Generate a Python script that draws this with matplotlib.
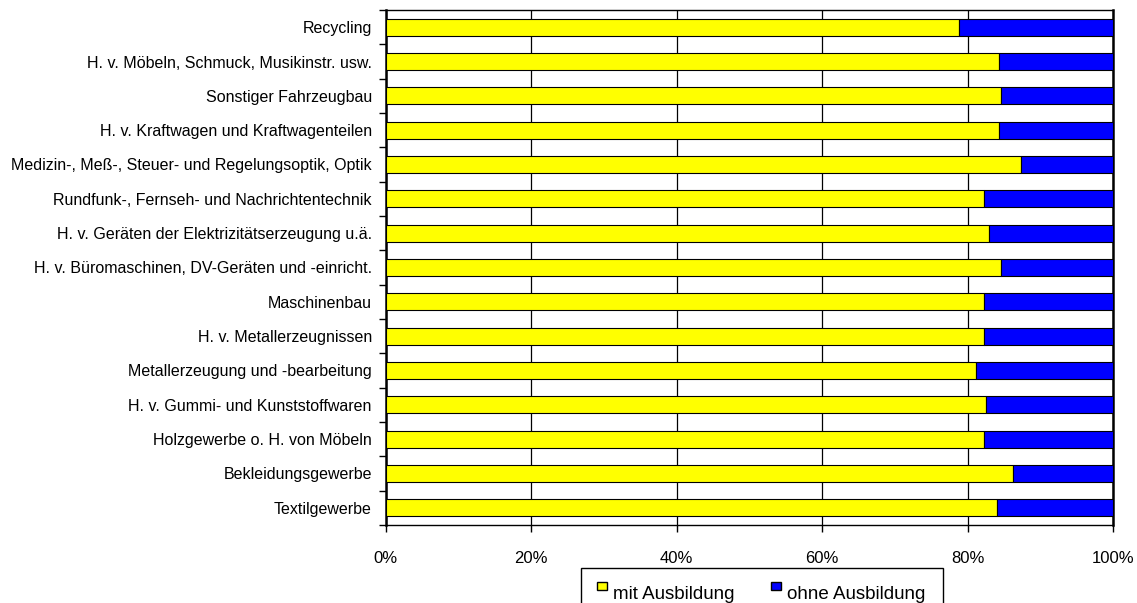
import matplotlib
matplotlib.use("Agg")
import matplotlib.pyplot as plt
from matplotlib.patches import Rectangle
from matplotlib.ticker import FixedLocator, PercentFormatter

plt.rcParams["font.family"] = ["Liberation Sans", "DejaVu Sans"]

# Industries, listed bottom to top
branches = [
    "Textilgewerbe",
    "Bekleidungsgewerbe",
    "Holzgewerbe o. H. von Möbeln",
    "H. v. Gummi- und Kunststoffwaren",
    "Metallerzeugung und -bearbeitung",
    "H. v. Metallerzeugnissen",
    "Maschinenbau",
    "H. v. Büromaschinen, DV-Geräten und -einricht.",
    "H. v. Geräten der Elektrizitätserzeugung u.ä.",
    "Rundfunk-, Fernseh- und Nachrichtentechnik",
    "Medizin-, Meß-, Steuer- und Regelungsoptik, Optik",
    "H. v. Kraftwagen und Kraftwagenteilen",
    "Sonstiger Fahrzeugbau",
    "H. v. Möbeln, Schmuck, Musikinstr. usw.",
    "Recycling",
]

# Share of employees (%) with and without vocational training
mit_ausbildung = [84.0, 86.2, 82.2, 82.6, 81.1, 82.3, 82.3, 84.6, 82.9, 82.3, 87.3, 84.3, 84.6, 84.3, 78.8]
ohne_ausbildung = [16.0, 13.8, 17.8, 17.4, 18.9, 17.7, 17.7, 15.4, 17.1, 17.7, 12.7, 15.7, 15.4, 15.7, 21.2]

series_names = ["mit Ausbildung", "ohne Ausbildung"]
colors = ["#FFFF00", "#0000FF"]
x_ticks = [0, 20, 40, 60, 80, 100]

fig = plt.figure(figsize=(11.37, 6.03), dpi=100)
ax = fig.add_axes([0.3392, 0.1294, 0.9789 - 0.3392, 0.9834 - 0.1294])

y = list(range(len(branches)))
ax.barh(y, mit_ausbildung, height=0.5, color=colors[0], edgecolor="black", linewidth=0.8, zorder=3)
ax.barh(y, ohne_ausbildung, left=mit_ausbildung, height=0.5, color=colors[1],
        edgecolor="black", linewidth=0.8, zorder=3)

ax.set_xlim(0, 100)
ax.set_ylim(-0.5, len(branches) - 0.5)

ax.xaxis.set_major_locator(FixedLocator(x_ticks))
ax.xaxis.set_major_formatter(PercentFormatter(decimals=0))
ax.grid(axis="x", color="black", linewidth=0.9, zorder=1)
ax.set_axisbelow(True)

ax.set_yticks(y)
ax.set_yticklabels(branches)
ax.yaxis.set_minor_locator(FixedLocator([i - 0.5 for i in range(len(branches) + 1)]))
ax.tick_params(axis="y", which="major", length=0, pad=10, labelsize=11.5)
ax.tick_params(axis="y", which="minor", length=5, width=1, direction="out")
ax.tick_params(axis="x", which="major", length=5, width=1, direction="out", pad=14, labelsize=12)

for side, spine in ax.spines.items():
    spine.set_color("black")
    spine.set_linewidth(1.0)
ax.spines["left"].set_linewidth(1.8)
ax.spines["right"].set_linewidth(1.8)

# Legend box at the bottom, drawn in figure pixels
W, H = 1137, 603


def fx(px):
    return px / W


def fy(py):
    return 1 - py / H


fig.patches.append(Rectangle((fx(581), fy(615)), fx(943) - fx(581), fy(568) - fy(615),
                             transform=fig.transFigure, facecolor="white",
                             edgecolor="black", linewidth=1.0, clip_on=False))
legend_items = [(597, 613), (771, 787)]
for (mx, tx), name, col in zip(legend_items, series_names, colors):
    fig.patches.append(Rectangle((fx(mx), fy(590)), fx(10), 8 / H,
                                 transform=fig.transFigure, facecolor=col,
                                 edgecolor="black", linewidth=1.0))
    fig.text(fx(tx), fy(599), name, fontsize=13.5, va="baseline", ha="left")

fig.savefig("out.png", dpi=100, facecolor="white")
